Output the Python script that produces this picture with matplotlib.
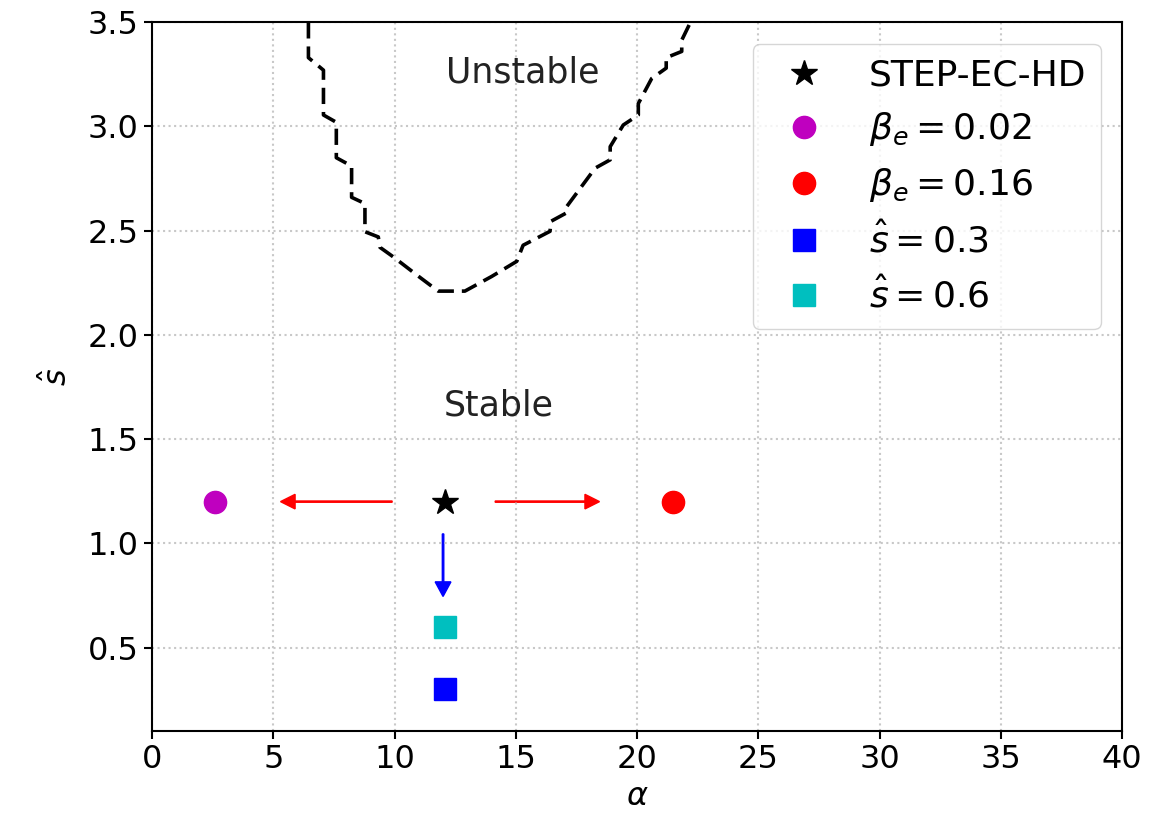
import matplotlib
matplotlib.use("Agg")
from matplotlib import pyplot as plt

# stability boundary
boundary_alpha = [6.45, 6.45, 7.07, 7.07, 7.6, 7.6, 8.23, 8.23, 8.78, 8.78, 9.33, 9.4,
                  9.94, 11.0, 11.8, 12.9, 14.0, 15.04, 15.3, 16.41, 16.45, 17.1, 17.1,
                  18.27, 18.89, 18.89, 19.43, 20.05, 20.05, 20.6, 21.2, 21.2, 21.84,
                  21.84, 22.2]
boundary_shat = [3.5, 3.33, 3.27, 3.055, 3.02, 2.85, 2.81, 2.66, 2.63, 2.495, 2.47, 2.42,
                 2.375, 2.28, 2.21, 2.21, 2.28, 2.353, 2.43, 2.497, 2.545, 2.586, 2.616,
                 2.80, 2.84, 2.903, 3.007, 3.055, 3.11, 3.23, 3.28, 3.33, 3.36,
                 3.414, 3.5]

# cases
ref_alpha, ref_shat = 12.1, 1.2
beta_low_alpha, beta_low_shat = 2.6, 1.2
beta_high_alpha, beta_high_shat = 21.5, 1.2
shat_low_alpha, shat_low_shat = 12.1, 0.3
shat_mid_alpha, shat_mid_shat = 12.1, 0.6

fig, ax = plt.subplots(figsize=(11.69, 8.24), dpi=100)
fig.subplots_adjust(left=0.13, right=0.96, bottom=0.113, top=0.973)

ax.plot(boundary_alpha, boundary_shat, 'k--', lw=2.6, dashes=(4.5, 2.2))

ms = 16
ax.plot(ref_alpha, ref_shat, 'k*', ms=19, label='STEP-EC-HD')
ax.plot(beta_low_alpha, beta_low_shat, 'mo', ms=ms, label=r'$\beta_e = 0.02$')
ax.plot(beta_high_alpha, beta_high_shat, 'ro', ms=ms, label=r'$\beta_e = 0.16$')
ax.plot(shat_low_alpha, shat_low_shat, 'bs', ms=ms, label=r'$\hat{s} = 0.3$')
ax.plot(shat_mid_alpha, shat_mid_shat, 'cs', ms=ms, label=r'$\hat{s} = 0.6$')

# arrows from the reference case
ax.arrow(9.9, 1.2, -4.0, 0, color='r', width=0.006, head_width=0.07, head_length=0.6,
         length_includes_head=False)
ax.arrow(14.15, 1.2, 3.7, 0, color='r', width=0.006, head_width=0.07, head_length=0.6,
         length_includes_head=False)
ax.arrow(12.0, 1.045, 0, -0.23, color='b', width=0.06, head_width=0.65, head_length=0.07,
         length_includes_head=False)

ax.text(15.3, 3.26, 'Unstable', fontsize=25, ha='center', va='center', color='#222222')
ax.text(14.3, 1.66, 'Stable', fontsize=25, ha='center', va='center', color='#222222')

ax.set_xlim(0, 40)
ax.set_ylim(0.1, 3.5)
ax.set_xticks(range(0, 41, 5))
ax.set_yticks([0.5, 1.0, 1.5, 2.0, 2.5, 3.0, 3.5])
ax.tick_params(labelsize=23, width=1.5, length=6)
ax.grid(True, linestyle=':', color='#c8c8c8', lw=1.5)
ax.set_xlabel(r'$\alpha$', fontsize=23)
ax.set_ylabel(r'$\hat{s}$', fontsize=23, labelpad=10)
for s in ax.spines.values():
    s.set_linewidth(1.5)

ax.legend(loc='upper right', fontsize=26, numpoints=1, borderaxespad=0.6)

fig.savefig('out.png', dpi=100)
